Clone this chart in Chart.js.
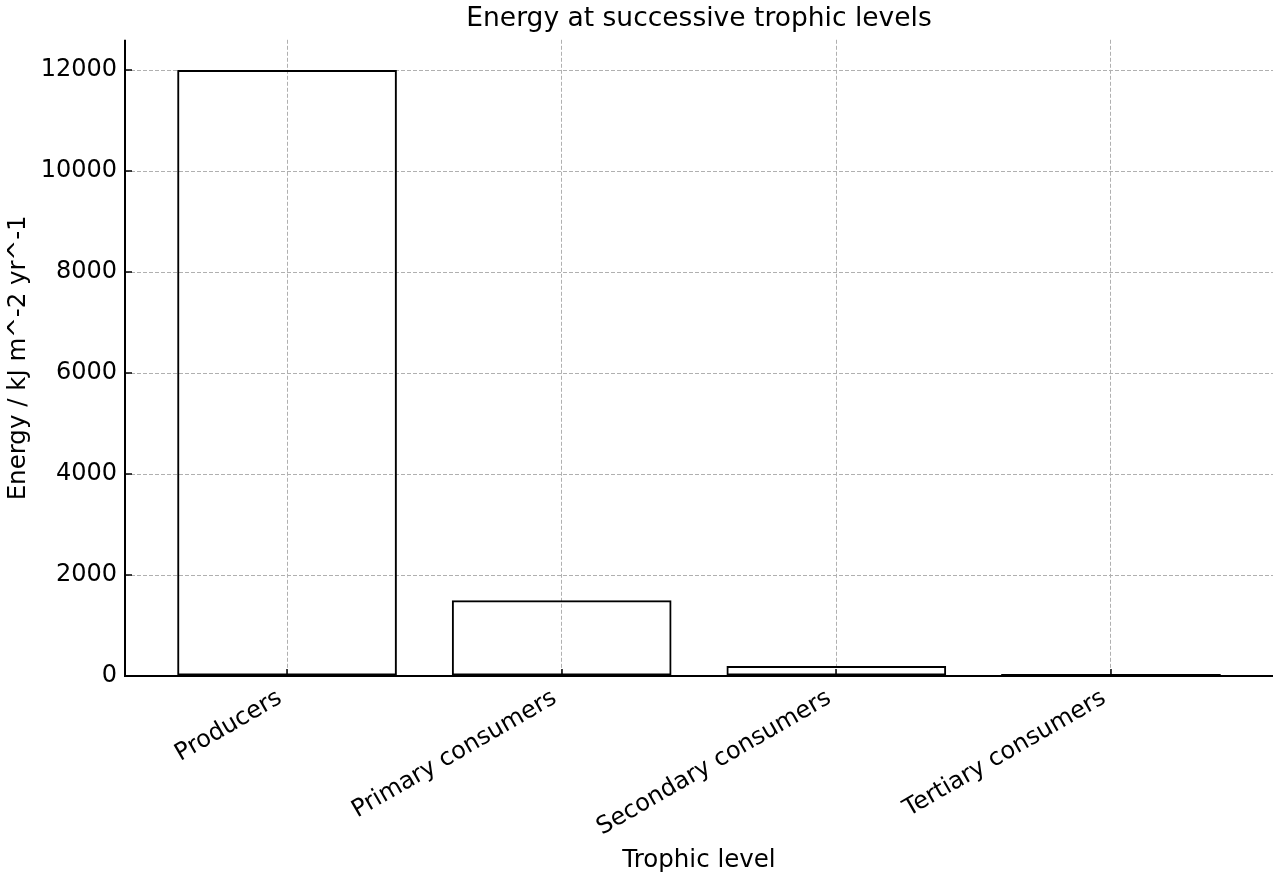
<!DOCTYPE html>
<html>
<head>
<meta charset="utf-8">
<script src="https://cdn.jsdelivr.net/npm/chart.js@4/dist/chart.umd.min.js"></script>
<style>
html,body{margin:0;padding:0;background:#fff;}
#wrap{width:1280px;height:880px;position:relative;}
</style>
</head>
<body>
<div id="wrap"><canvas id="c"></canvas></div>
<script>
const categories = ["Producers", "Primary consumers", "Secondary consumers", "Tertiary consumers"];
const energyValues = [12000, 1500, 200, 40];
const yTickValues = [0, 2000, 4000, 6000, 8000, 10000, 12000];
const titleText = "Energy at successive trophic levels";
const xTitle = "Trophic level";
const yTitle = "Energy / kJ m^-2 yr^-1";

const FONT = "'DejaVu Sans', sans-serif";
const gridColor = "#b0b0b0";

const spinesAndTicks = {
  id: 'spinesAndTicks',
  afterDatasetsDraw(chart) {
    const ctx = chart.ctx, a = chart.chartArea;
    const xs = chart.scales.x, ys = chart.scales.y;
    ctx.save();
    ctx.setLineDash([]);
    ctx.strokeStyle = '#000';
    ctx.lineWidth = 2;
    ctx.beginPath();
    ctx.moveTo(a.left, a.top);
    ctx.lineTo(a.left, a.bottom);
    ctx.lineTo(a.right, a.bottom);
    ctx.stroke();
    ctx.lineWidth = 1.5;
    ctx.beginPath();
    xs.ticks.forEach(t => {
      const px = Math.round(xs.getPixelForValue(t.value));
      ctx.moveTo(px, a.bottom);
      ctx.lineTo(px, a.bottom - 7);
    });
    ys.ticks.forEach(t => {
      const py = Math.round(ys.getPixelForValue(t.value));
      ctx.moveTo(a.left, py);
      ctx.lineTo(a.left + 7, py);
    });
    ctx.stroke();
    ctx.restore();
  }
};

new Chart(document.getElementById('c'), {
  type: 'bar',
  data: {
    datasets: [{
      data: categories.map((c, i) => ({x: i, y: energyValues[i]})),
      backgroundColor: 'rgba(0,0,0,0)',
      borderColor: '#000',
      borderWidth: 2,
      borderSkipped: false,
      barPercentage: 0.8,
      categoryPercentage: 1.0
    }]
  },
  options: {
    responsive: true,
    maintainAspectRatio: false,
    animation: false,
    layout: {padding: {left: 0, right: 7, top: 0, bottom: 0}},
    plugins: {
      legend: {display: false},
      tooltip: {enabled: false},
      title: {
        display: true,
        fullSize: false,
        text: titleText,
        color: '#000',
        font: {family: FONT, size: 26.5, weight: 'normal', lineHeight: 1.2},
        padding: {top: 3, bottom: 5}
      }
    },
    scales: {
      x: {
        type: 'linear',
        offset: false,
        min: -0.59,
        max: 3.59,
        afterBuildTicks(scale) { scale.ticks = categories.map((c, i) => ({value: i})); },
        afterFit(scale) { scale.height = 204; scale.paddingLeft = 0; scale.paddingRight = 0; },
        ticks: {
          autoSkip: false,
          maxRotation: 30,
          minRotation: 30,
          padding: 8,
          labelOffset: -7,
          color: '#000',
          font: {family: FONT, size: 24},
          callback: (v) => categories[v] ?? ''
        },
        grid: {color: gridColor, lineWidth: 1, drawTicks: false, offset: false},
        border: {display: false, dash: [4, 2]},
        title: {
          display: true,
          text: xTitle,
          color: '#000',
          font: {family: FONT, size: 24.5, lineHeight: 1.2},
          padding: {top: 0, bottom: 5}
        }
      },
      y: {
        type: 'linear',
        min: 0,
        max: 12600,
        afterBuildTicks(scale) { scale.ticks = yTickValues.map(v => ({value: v})); },
        afterFit(scale) { scale.width = 125; scale.paddingTop = 0; scale.paddingBottom = 0; },
        ticks: {
          padding: 8,
          color: '#000',
          font: {family: FONT, size: 24},
          callback: (v) => String(v)
        },
        grid: {color: gridColor, lineWidth: 1, drawTicks: false},
        border: {display: false, dash: [4, 2]},
        title: {
          display: true,
          text: yTitle,
          color: '#000',
          font: {family: FONT, size: 24.5, lineHeight: 1.2},
          padding: {top: 4, bottom: 0}
        }
      }
    }
  },
  plugins: [spinesAndTicks]
});
</script>
</body>
</html>
